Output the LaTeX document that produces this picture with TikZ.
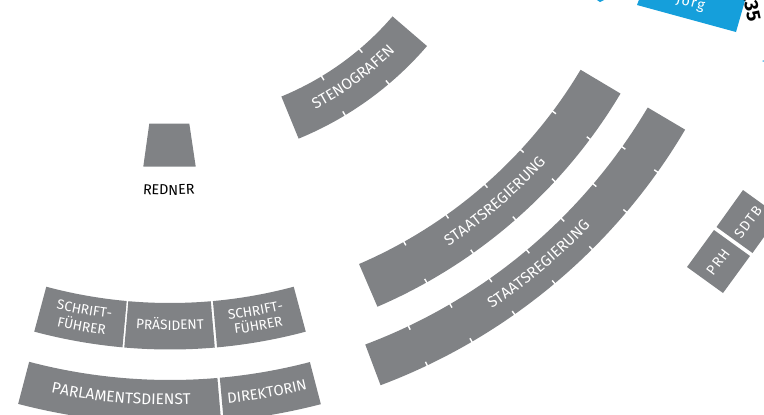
\documentclass[tikz,border=0pt]{standalone}
\usepackage{fontspec}
\usetikzlibrary{decorations.text}
\setmainfont{Fira Sans}
\newfontfamily\seatfont{Fira Sans}[LetterSpace=9]
\definecolor{seatgray}{HTML}{808285}
\definecolor{boxblue}{HTML}{159FDB}
\def\seatsize{\seatfont\fontsize{8}{9}\selectfont}
\tikzset{
    seat/.style={fill=seatgray, draw=none},
    tickmark/.style={draw=white, line width=0.8pt},
    seatlabel/.style={text=white, font=\seatsize},
}
%% band of the fan: start angle, end angle, inner radius, outer radius
\newcommand{\seatband}[4]{
    \fill[seat] (#1:#3) arc[start angle=#1, end angle=#2, radius=#3]
    -- (#2:#4) arc[start angle=#2, end angle=#1, radius=#4] -- cycle;
}
%% curved text: [size], middle angle, radius, colour, text
\newcommand{\arctext}[5][8.2]{
    \path[decorate, decoration={text along path, text align=center,
        text={|\seatfont\fontsize{#1}{9}\selectfont\color{#4}|#5}}]
    (#2-25:#3) arc[start angle=#2-25, end angle=#2+25, radius=#3];
}
\begin{document}
\begin{tikzpicture}[x=0.02cm, y=0.02cm]
        \useasboundingbox (0,0) rectangle (764,-414);
        \clip (0,0) rectangle (764,-414);
        %%Blue boxes
        \fill[boxblue] (637,-5) -- (736,-32) -- (746,3) -- (640,3) -- cycle;
        \fill[boxblue] (597,0) -- (604,0) -- (600,-2) -- cycle;
        \fill[boxblue] (762,-61) -- (765,-60) -- (765,-62) -- cycle;
        \node[seatlabel, rotate=-15] (joerg) at (690.5,-3) {Jörg};
        \node[rotate=-78, font=\bfseries\fontsize{11}{12}\selectfont] (number) at (752,-9) {.35};
        %%Redner
        \fill[seat] (149.3,-123.5) -- (189.3,-123.5) -- (195.7,-166.5) -- (143.3,-166.5) -- cycle;
        %%Fan around the common centre
        \begin{scope}[shift={(170,175)}]
        \seatband{-67.7}{-40.7}{293.5}{339}
        \seatband{-66.7}{-30.8}{478}{524.5}
        \seatband{-69.4}{-30.6}{555}{598.5}
        \seatband{-105}{-95.2}{478}{524.5}
        \seatband{-95}{-85.1}{478}{524.5}
        \seatband{-84.85}{-75}{478}{524.5}
        \seatband{-104.7}{-85.1}{555}{598.5}
        \seatband{-84.85}{-75.4}{555}{598.5}
        %%Ticks
        \foreach \a in {-58.9,-49.8}{
            \draw[tickmark] (\a:292.5) -- (\a:298);
            \draw[tickmark] (\a:340) -- (\a:334.5);
        }
        \foreach \a in {-60.7,-54.7,-48.8,-42.8,-36.8}{
            \draw[tickmark] (\a:477) -- (\a:482);
            \draw[tickmark] (\a:525.5) -- (\a:520.5);
        }
        \foreach \a in {-64.55,-59.7,-54.85,-50,-45.15,-40.3,-35.45}{
            \draw[tickmark] (\a:554) -- (\a:559);
            \draw[tickmark] (\a:599.5) -- (\a:594.5);
        }
        %%Labels on the arcs
        \arctext[8.7]{-54}{319}{white}{STENOGRAFEN}
        \arctext[8.7]{-49.2}{505}{white}{STAATSREGIERUNG}
        \arctext[8.7]{-50}{581}{white}{STAATSREGIERUNG}
        \arctext[7.8]{-100}{497}{white}{SCHRIFT-}
        \arctext[7.8]{-100}{514}{white}{FÜHRER}
        \arctext[7.8]{-90}{505}{white}{PRÄSIDENT}
        \arctext[7.8]{-80}{498}{white}{SCHRIFT-}
        \arctext[7.8]{-80}{513}{white}{FÜHRER}
        \arctext[8.8]{-94.9}{580}{white}{PARLAMENTSDIENST}
        \arctext[8.4]{-80.3}{581}{white}{DIREKTORIN}
        \arctext{-90.2}{370}{black}{REDNER}
        \end{scope}
        %%PRH and SDTB
        \fill[seat] (714,-230) -- (750,-256) -- (723,-293) -- (687,-267) -- cycle;
        \fill[seat] (743,-190) -- (716.5,-227) -- (752.5,-253) -- (779,-216) -- cycle;
        \node[seatlabel, rotate=53] (prh) at (718,-262) {PRH};
        \node[seatlabel, rotate=53] (sdtb) at (748,-222) {SDTB};
\end{tikzpicture}
\end{document}
